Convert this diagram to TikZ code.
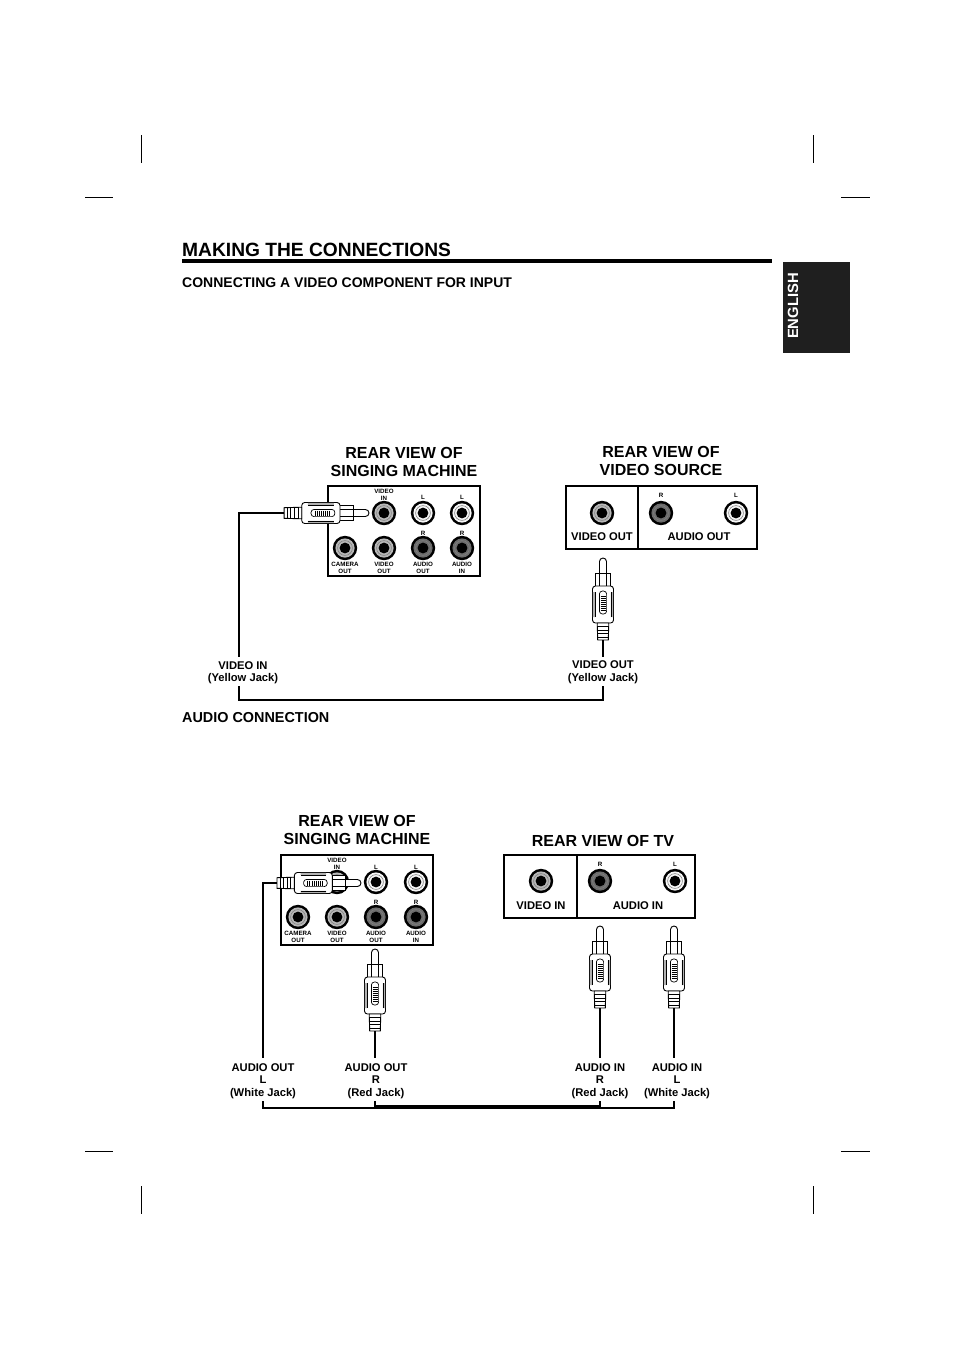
\documentclass[tikz,border=0pt]{standalone}
\usepackage{fontspec}
\setmainfont{Liberation Sans}
\definecolor{ringvideo}{gray}{0.72}
\definecolor{ringwhite}{gray}{0.97}
\definecolor{ringred}{gray}{0.42}
\tikzset{
  headlabel/.style={font=\fontsize{16}{18}\selectfont\bfseries,align=center,inner sep=0pt},
  midlabel/.style={font=\fontsize{11.2}{12.5}\selectfont\bfseries,align=center,inner sep=0pt},
  tinylabel/.style={font=\fontsize{6.2}{7.2}\selectfont\bfseries,align=center,inner sep=0pt},
  sublabel/.style={anchor=west,inner sep=0pt,font=\fontsize{14}{16}\selectfont\bfseries},
  panelbox/.style={draw,line width=1.6pt},
  wire/.style={line width=1.1pt},
  cropmark/.style={line width=.7pt},
  jack/.pic={
    \fill[black] (0,0) circle (12.2);
    \fill[#1] (0,0) circle (9.6);
    \draw[gray,line width=.6pt] (0,0) circle (7.4);
    \fill[black] (0,0) circle (5.4);
  },
  plug/.pic={
    \draw[fill=white,line width=.9pt] (-3.5,15) -- (-3.5,3.5) arc (180:360:3.5) -- (3.5,15);
    \draw[fill=white,line width=.9pt] (-7.5,28) -- (-7.5,15) -- (7.5,15) -- (7.5,28);
    \draw[line width=.7pt] (-3.5,15) -- (-3.5,28) (3.5,15) -- (3.5,28);
    \draw[fill=white,line width=.9pt,rounded corners=3pt] (-10.5,28) rectangle (10.5,65);
    \fill[gray!60] (-10.2,34) rectangle (-7.8,59) (7.8,34) rectangle (10.2,59);
    \draw[line width=.6pt] (-7.8,34) -- (-7.8,59) (7.8,34) -- (7.8,59);
    \draw[line width=.7pt,rounded corners=3pt] (-3.6,33) rectangle (3.6,56);
    \draw[line width=.6pt] (-2.5,38) -- (2.5,38) (-2.5,40) -- (2.5,40) (-2.5,42) -- (2.5,42) (-2.5,44) -- (2.5,44)
      (-2.5,46) -- (2.5,46) (-2.5,48) -- (2.5,48) (-2.5,50) -- (2.5,50) (-2.5,52) -- (2.5,52);
    \draw[fill=white,line width=.9pt] (-5.8,65) -- (-5.3,82) -- (5.3,82) -- (5.8,65) -- cycle;
    \draw[line width=.9pt] (-5.6,68.5) -- (5.6,68.5) (-5.5,72) -- (5.5,72) (-5.4,75.5) -- (5.4,75.5) (-5.4,79) -- (5.4,79);
  }
}
\begin{document}
\begin{tikzpicture}[x=1pt,y=-1pt]
\useasboundingbox (0,0) rectangle (954,1350);
% crop marks
\draw[cropmark] (141,135) -- (141,163);
\draw[cropmark] (813,135) -- (813,163);
\draw[cropmark] (85,197) -- (113,197);
\draw[cropmark] (841,197) -- (870,197);
\draw[cropmark] (85,1151) -- (113,1151);
\draw[cropmark] (841,1151) -- (870,1151);
\draw[cropmark] (141,1186) -- (141,1214);
\draw[cropmark] (813,1186) -- (813,1214);
% header
\node[anchor=west,inner sep=0pt,font=\fontsize{19.2}{22}\selectfont\bfseries] (title) at (182,250) {MAKING THE CONNECTIONS};
\draw[line width=3.4pt] (182,261) -- (772,261);
\node[sublabel] (subvideo) at (182,283) {CONNECTING A VIDEO COMPONENT FOR INPUT};
\fill[black!88] (783,262) rectangle (850,353);
\node[rotate=90,text=white,inner sep=0pt,font=\fontsize{14.8}{16}\selectfont\bfseries] (english) at (793,306) {ENGLISH};
% upper diagram
\node[headlabel] (headmachine) at (404,462) {REAR VIEW OF\\SINGING MACHINE};
\node[headlabel] (headsource) at (661,461) {REAR VIEW OF\\VIDEO SOURCE};
\draw[panelbox] (328,486) rectangle (480,576);
\pic at (384,513) {jack=ringvideo};
\pic at (423,513) {jack=ringwhite};
\pic at (462,513) {jack=ringwhite};
\pic at (345,548) {jack=ringvideo};
\pic at (384,548) {jack=ringvideo};
\pic at (423,548) {jack=ringred};
\pic at (462,548) {jack=ringred};
\node[tinylabel] (aone) at (384,495) {VIDEO\\IN};
\node[tinylabel] (atwo) at (423,497) {L};
\node[tinylabel] (athree) at (462,497) {L};
\node[tinylabel] (afour) at (423,533) {R};
\node[tinylabel] (afive) at (462,533) {R};
\node[tinylabel] (asix) at (345,568) {CAMERA\\OUT};
\node[tinylabel] (aseven) at (384,568) {VIDEO\\OUT};
\node[tinylabel] (aeight) at (423,568) {AUDIO\\OUT};
\node[tinylabel] (anine) at (462,568) {AUDIO\\IN};
\draw[panelbox] (566,486) rectangle (757,549);
\draw[panelbox] (638,486) -- (638,549);
\pic at (602,513) {jack=ringvideo};
\pic at (661,513) {jack=ringred};
\pic at (736,513) {jack=ringwhite};
\node[tinylabel] (bone) at (661,495) {R};
\node[tinylabel] (btwo) at (736,495) {L};
\node[midlabel] (bthree) at (602,537) {VIDEO OUT};
\node[midlabel] (bfour) at (699,537) {AUDIO OUT};
\pic[rotate=-90,yscale=1.035] at (369,513) {plug};
\pic at (603,558) {plug};
\node[midlabel] (videoinlabel) at (243,672.5) {VIDEO IN\\(Yellow Jack)};
\node[midlabel] (videooutlabel) at (603,672) {VIDEO OUT\\(Yellow Jack)};
\coordinate (plugaend) at (284,513);
\coordinate (cornera) at (239,513);
\coordinate (enda) at (239,657);
\coordinate (startb) at (239,686);
\coordinate (cornerb) at (239,700);
\coordinate (cornerc) at (603,700);
\coordinate (endb) at (603,686);
\coordinate (plugbend) at (603,640);
\coordinate (endc) at (603,657);
\draw[wire] (plugaend) -- (cornera) -- (enda);
\draw[wire] (startb) -- (cornerb) -- (cornerc) -- (endb);
\draw[wire] (plugbend) -- (endc);
\node[sublabel,font=\fontsize{14.4}{16}\selectfont\bfseries] (subaudio) at (182,718) {AUDIO CONNECTION};
% lower diagram
\node[headlabel] (headmachinetwo) at (357,830) {REAR VIEW OF\\SINGING MACHINE};
\node[headlabel] (headtv) at (603,841) {REAR VIEW OF TV};
\draw[panelbox] (281,855) rectangle (433,945);
\pic at (337,882) {jack=ringvideo};
\pic at (376,882) {jack=ringwhite};
\pic at (416,882) {jack=ringwhite};
\pic at (298,917) {jack=ringvideo};
\pic at (337,917) {jack=ringvideo};
\pic at (376,917) {jack=ringred};
\pic at (416,917) {jack=ringred};
\node[tinylabel] (cone) at (337,864) {VIDEO\\IN};
\node[tinylabel] (ctwo) at (376,867) {L};
\node[tinylabel] (cthree) at (416,867) {L};
\node[tinylabel] (cfour) at (376,902) {R};
\node[tinylabel] (cfive) at (416,902) {R};
\node[tinylabel] (csix) at (298,937) {CAMERA\\OUT};
\node[tinylabel] (cseven) at (337,937) {VIDEO\\OUT};
\node[tinylabel] (ceight) at (376,937) {AUDIO\\OUT};
\node[tinylabel] (cnine) at (416,937) {AUDIO\\IN};
\draw[panelbox] (504,855) rectangle (695,918);
\draw[panelbox] (577,855) -- (577,918);
\pic at (541,881) {jack=ringvideo};
\pic at (600,881) {jack=ringred};
\pic at (675,881) {jack=ringwhite};
\node[tinylabel] (done) at (600,864) {R};
\node[tinylabel] (dtwo) at (675,864) {L};
\node[midlabel] (dthree) at (541,906) {VIDEO IN};
\node[midlabel] (dfour) at (638,906) {AUDIO IN};
\pic[rotate=-90,yscale=1.025] at (361,883) {plug};
\pic at (375,949) {plug};
\pic at (600,926) {plug};
\pic at (674,926) {plug};
\node[midlabel] (audiooutl) at (263,1081) {AUDIO OUT\\L\\(White Jack)};
\node[midlabel] (audiooutr) at (376,1081) {AUDIO OUT\\R\\(Red Jack)};
\node[midlabel] (audioinr) at (600,1081) {AUDIO IN\\R\\(Red Jack)};
\node[midlabel] (audioinl) at (677,1081) {AUDIO IN\\L\\(White Jack)};
\coordinate (plugcend) at (277,883);
\coordinate (cornerd) at (263,883);
\coordinate (endd) at (263,1058);
\coordinate (plugdend) at (375,1031);
\coordinate (ende) at (375,1058);
\coordinate (plugeend) at (600,1008);
\coordinate (endf) at (600,1058);
\coordinate (plugfend) at (674,1008);
\coordinate (endg) at (674,1058);
\draw[wire] (plugcend) -- (cornerd) -- (endd);
\draw[wire] (plugdend) -- (ende);
\draw[wire] (plugeend) -- (endf);
\draw[wire] (plugfend) -- (endg);
\coordinate (busa) at (263,1108);
\coordinate (busb) at (375,1108);
\coordinate (busc) at (600,1108);
\coordinate (busd) at (674,1108);
\coordinate (ticka) at (263,1101);
\coordinate (tickb) at (375,1101);
\coordinate (tickc) at (600,1101);
\coordinate (tickd) at (674,1101);
\draw[wire] (ticka) -- (busa) -- (busd) -- (tickd);
\draw[wire] (tickb) -- (busb);
\draw[wire] (tickc) -- (busc);
\draw[line width=3.8pt] ([yshift=1pt]busb) -- ([yshift=1pt]busc);
\end{tikzpicture}
\end{document}
